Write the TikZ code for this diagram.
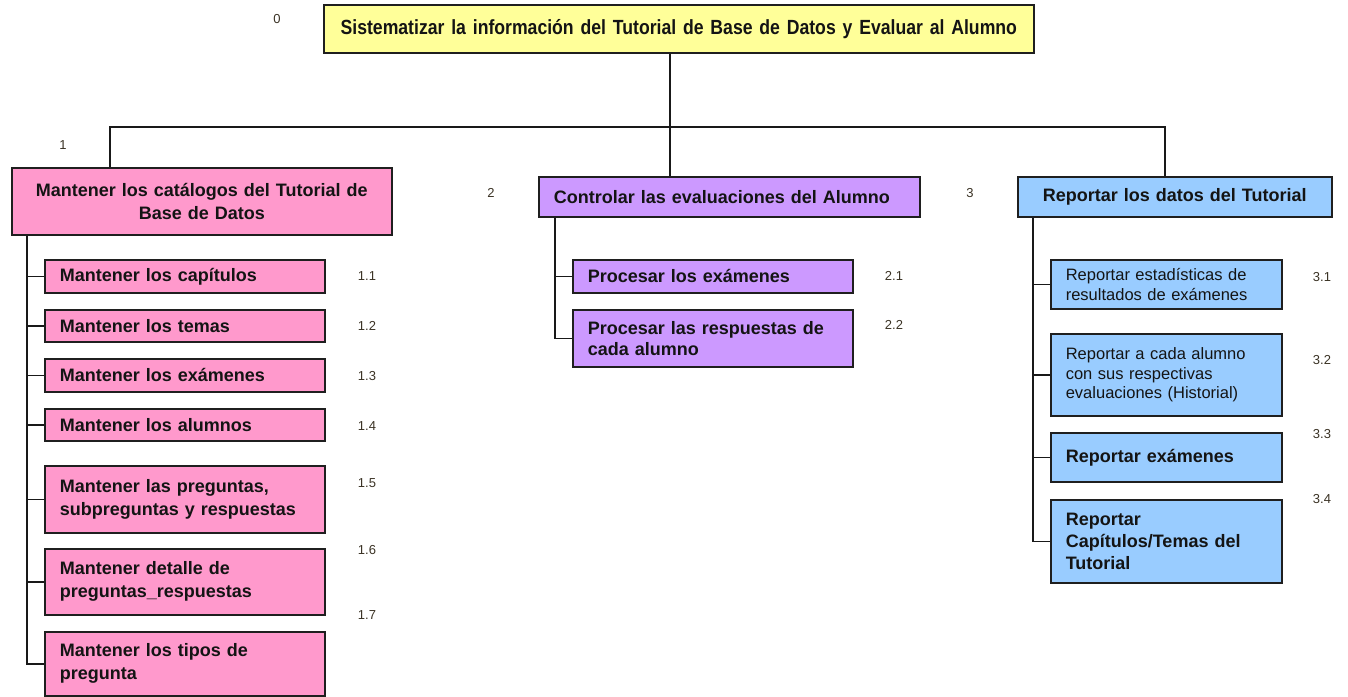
\documentclass[tikz,border=0pt]{standalone}
\usepackage{fontspec}
\setmainfont{Liberation Sans}
\newfontfamily\narrowfont[FakeStretch=0.86]{Liberation Sans}
\definecolor{yel}{HTML}{FFFF99}
\definecolor{pnk}{HTML}{FF99CC}
\definecolor{prp}{HTML}{CC99FF}
\definecolor{blu}{HTML}{99CCFF}
\definecolor{lab}{HTML}{3A3224}
\begin{document}
\begin{tikzpicture}[x=1pt,y=-1pt,
  box/.style={draw=black!88, line width=1.6pt, anchor=north west, inner xsep=15pt, inner ysep=0pt,
    font=\fontsize{18}{23}\selectfont\bfseries, text=black!92},
  boxr/.style={box, font=\fontsize{16.5}{19.5}\selectfont},
  wh/.style 2 args={minimum width=#1pt, minimum height=#2pt, text width=#1pt-30pt},
  num/.style={font=\fontsize{13}{15}\selectfont, text=lab, inner sep=0pt},
  conn/.style={draw=black!90, line width=1.4pt}
]
\useasboundingbox (0,0) rectangle (1348,696);

% root
\node[box, fill=yel, wh={710}{48}, align=center, font=\narrowfont\fontsize{20.5}{24}\selectfont\bfseries] (root) at (323,4)
  {Sistematizar la información del Tutorial de Base de Datos y Evaluar al Alumno};

% level 1
\node[box, fill=pnk, wh={380}{67}, align=center, inner xsep=5pt, text width=370pt] (b1) at (11,167)
  {Mantener los catálogos del Tutorial de\\Base de Datos};
\node[box, fill=prp, wh={381}{40}, align=left] (b2) at (538,176)
  {Controlar las evaluaciones del Alumno};
\node[box, fill=blu, wh={314}{40}, align=center, inner xsep=5pt, text width=304pt] (b3) at (1017,176)
  {Reportar los datos del Tutorial};

% children of 1
\node[box, fill=pnk, wh={280}{33}, align=left] (c11) at (44,259) {Mantener los capítulos};
\node[box, fill=pnk, wh={280}{32}, align=left] (c12) at (44,309) {Mantener los temas};
\node[box, fill=pnk, wh={280}{33}, align=left] (c13) at (44,358) {Mantener los exámenes};
\node[box, fill=pnk, wh={280}{32}, align=left] (c14) at (44,408) {Mantener los alumnos};
\node[box, fill=pnk, wh={280}{67}, align=left] (c15) at (44,465) {Mantener las preguntas,\\subpreguntas y respuestas};
\node[box, fill=pnk, wh={280}{66}, align=left] (c16) at (44,548) {Mantener detalle de\\preguntas\_respuestas};
\node[box, fill=pnk, wh={280}{64}, align=left] (c17) at (44,631) {Mantener los tipos de\\pregunta};

% children of 2
\node[box, fill=prp, wh={280}{33}, align=left] (c21) at (572,259) {Procesar los exámenes};
\node[box, fill=prp, wh={280}{57}, align=left, font=\fontsize{18}{21}\selectfont\bfseries] (c22) at (572,309) {Procesar las respuestas de\\cada alumno};

% children of 3
\node[boxr, fill=blu, wh={231}{49}, align=left] (c31) at (1050,259) {Reportar estadísticas de\\resultados de exámenes};
\node[boxr, fill=blu, wh={231}{82}, align=left] (c32) at (1050,333) {Reportar a cada alumno\\con sus respectivas\\evaluaciones (Historial)};
\node[box, fill=blu, wh={231}{49}, align=left] (c33) at (1050,432) {Reportar exámenes};
\node[box, fill=blu, wh={231}{83}, align=left, font=\fontsize{18}{22}\selectfont\bfseries] (c34) at (1050,499) {Reportar\\Capítulos/Temas del\\Tutorial};

% numbers
\node[num] (n0) at (277,19) {0};
\node[num] (n1) at (63,145) {1};
\node[num] (n2) at (491,193) {2};
\node[num] (n3) at (970,193) {3};
\node[num] (n11) at (367,276) {1.1};
\node[num] (n12) at (367,326) {1.2};
\node[num] (n13) at (367,376) {1.3};
\node[num] (n14) at (367,426) {1.4};
\node[num] (n15) at (367,483) {1.5};
\node[num] (n16) at (367,550) {1.6};
\node[num] (n17) at (367,615) {1.7};
\node[num] (n21) at (894,276) {2.1};
\node[num] (n22) at (894,325) {2.2};
\node[num] (n31) at (1322,277) {3.1};
\node[num] (n32) at (1322,360) {3.2};
\node[num] (n33) at (1322,434) {3.3};
\node[num] (n34) at (1322,499) {3.4};

% connectors
\coordinate (bus) at (0,127);
\coordinate (j0) at (670,0);
\coordinate (j1) at (110,0);
\coordinate (j3) at (1165,0);
\coordinate (t1) at (27,0);
\coordinate (t2) at (555,0);
\coordinate (t3) at (1033,0);

\draw[conn] (j0 |- root.south) -- (j0 |- b2.north);
\draw[conn] (j1 |- b1.north) -- (j1 |- bus) -- (j3 |- bus) -- (j3 |- b3.north);

\draw[conn] (t1 |- b1.south) -- (t1 |- c17.west) -- (c17.west);
\foreach \c in {c11,c12,c13,c14,c15,c16} \draw[conn] (t1 |- \c.west) -- (\c.west);

\draw[conn] (t2 |- b2.south) -- (t2 |- c22.west) -- (c22.west);
\draw[conn] (t2 |- c21.west) -- (c21.west);

\draw[conn] (t3 |- b3.south) -- (t3 |- c34.west) -- (c34.west);
\foreach \c in {c31,c32,c33} \draw[conn] (t3 |- \c.west) -- (\c.west);
\end{tikzpicture}
\end{document}
